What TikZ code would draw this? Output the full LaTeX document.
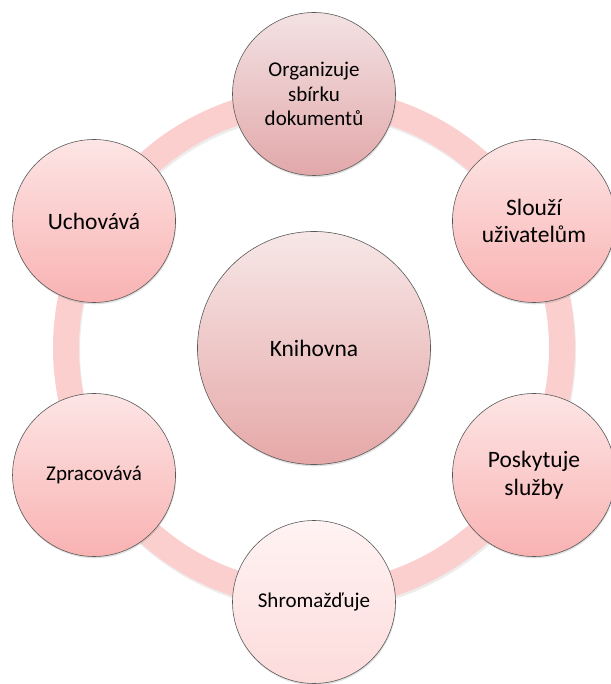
\documentclass[tikz,border=0pt]{standalone}
\usepackage{fontspec}
\setmainfont{Carlito}
\usetikzlibrary{shadows}
\definecolor{ringpink}{RGB}{252,207,207}
\definecolor{mauvetop}{RGB}{243,226,227}
\definecolor{mauvebot}{RGB}{226,168,170}
\definecolor{hubtop}{RGB}{247,231,231}
\definecolor{hubbot}{RGB}{230,168,168}
\definecolor{sidetop}{RGB}{253,229,229}
\definecolor{sidebot}{RGB}{249,178,178}
\definecolor{paletop}{RGB}{255,243,243}
\definecolor{palebot}{RGB}{253,219,219}

\begin{document}
\begin{tikzpicture}[x=1pt, y=1pt,
		bubble/.style={circle, draw=black!65, line width=0.6pt, minimum size=163pt, inner sep=0pt, align=center,
			drop shadow={shadow xshift=0.6pt, shadow yshift=-1.8pt, opacity=0.25}},
		bigtext/.style={font=\fontsize{23.5}{27.5}\selectfont},
		smalltext/.style={font=\fontsize{21}{24.5}\selectfont}]
		%%%%% START %%%%%
		
		\useasboundingbox (-314, -336) rectangle (296, 348);
		\coordinate (mid) at (0, 0);
		
		% ring behind the bubbles
		\draw[line width=26pt, color=black, opacity=0.07] ([shift={(1, -2.5)}]mid) circle (248pt);
		\draw[line width=26pt, color=ringpink] (mid) circle (248pt);
		
		\node[bubble, bigtext, minimum size=233pt, top color=hubtop, bottom color=hubbot] (lib) at (mid) {Knihovna};
		
		\node[bubble, smalltext, top color=mauvetop, bottom color=mauvebot] (org) at (90:254) {Organizuje\\sbírku\\dokumentů};
		\node[bubble, bigtext, top color=sidetop, bottom color=sidebot] (slou) at (30:254) {Slouží\\uživatelům};
		\node[bubble, bigtext, top color=sidetop, bottom color=sidebot] (posk) at (-30:254) {Poskytuje\\služby};
		\node[bubble, smalltext, top color=paletop, bottom color=palebot] (shrom) at (-90:254) {Shromažďuje};
		\node[bubble, smalltext, top color=sidetop, bottom color=sidebot] (zprac) at (210:254) {Zpracovává};
		\node[bubble, bigtext, top color=sidetop, bottom color=sidebot] (uchov) at (150:254) {Uchovává};
		
		%%%%% END %%%%%
\end{tikzpicture}
\end{document}
